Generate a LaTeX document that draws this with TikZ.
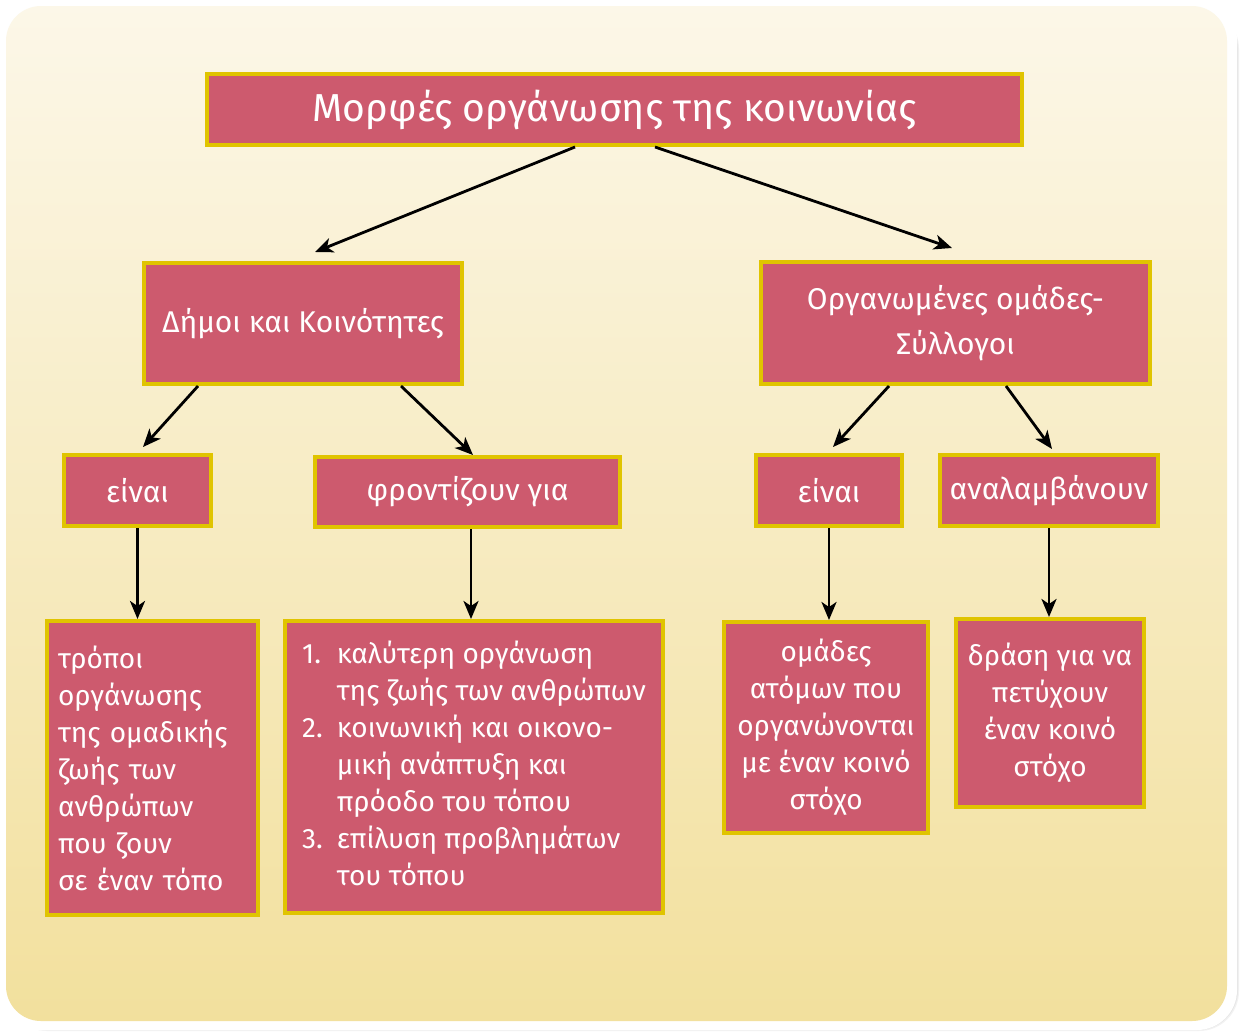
\documentclass[tikz,border=0pt]{standalone}
\usepackage{fontspec}
\setmainfont{Fira Sans}
\usetikzlibrary{arrows.meta,calc,positioning}

\definecolor{boxfill}{RGB}{205,90,110}
\definecolor{boxline}{RGB}{224,196,0}
\definecolor{bgtop}{RGB}{252,247,232}
\definecolor{bgbot}{RGB}{242,224,157}

\tikzset{
  box/.style={draw=boxline, fill=boxfill, line width=2pt, text=white, inner sep=0pt,
    align=center, font=\fontsize{14}{18.5}\selectfont},
  headfont/.style={font=\fontsize{15}{22.5}\selectfont},
  arr/.style={-{Stealth[length=9pt,width=7.5pt,inset=2.5pt]}, line width=1.4pt, black},
}

\begin{document}
\begin{tikzpicture}[x=0.5pt,y=0.5pt,yscale=-1,xscale=1]
\useasboundingbox (0,0) rectangle (1241,1034);

%Shape: frame with shadow
\foreach \s in {1,...,5}
  \fill[black, opacity=0.05, rounded corners=20pt] (2+\s,4+\s) rectangle (1234+\s,1026+\s);
\fill[white, rounded corners=20pt] (0,0) rectangle (1237,1030);
\shade[top color=bgtop, bottom color=bgbot, rounded corners=17.5pt] (6,6) rectangle (1227,1021);

% Text Node
\node[box, minimum width=407.5pt, minimum height=35.5pt, font=\fontsize{19.5}{24}\selectfont] (morfes) at (614.5,109.5) {Μορφές οργάνωσης της κοινωνίας};
% Text Node
\node[box, headfont, minimum width=159pt, minimum height=60.5pt] (dimoi) at (303,323.5) {Δήμοι και Κοινότητες};
% Text Node
\node[box, headfont, minimum width=194.5pt, minimum height=61pt] (syllogoi) at (955.5,323) {Οργανωμένες ομάδες-\\Σύλλογοι};
% Text Node
\node[box, headfont, minimum width=73.5pt, minimum height=35.5pt] (einaiA) at (137.5,490.5) {είναι};
% Text Node
\node[box, headfont, minimum width=152.5pt, minimum height=35pt] (frontizoun) at (467.5,492) {φροντίζουν για};
% Text Node
\node[box, headfont, minimum width=73pt, minimum height=35.5pt] (einaiB) at (829,490.5) {είναι};
% Text Node
\node[box, headfont, minimum width=109pt, minimum height=35.5pt] (analamv) at (1049,490.5) {αναλαμβάνουν};
% Text Node
\node[box, minimum width=105.5pt, minimum height=147pt, text width=94.5pt, align=left] (tropoi) at (152.5,768)
  {τρόποι\\οργάνωσης\\της ομαδικής\\ζωής των\\ανθρώπων\\που ζουν\\σε έναν τόπο};
% Text Node
\node[box, minimum width=189pt, minimum height=146pt] (stoxoi) at (474,767)
  {\begin{tabular}{@{}l@{\hspace{7pt}}l@{}}
   1. & καλύτερη οργάνωση\\
      & της ζωής των ανθρώπων\\
   2. & κοινωνική και οικονο-\\
      & μική ανάπτυξη και\\
      & πρόοδο του τόπου\\
   3. & επίλυση προβλημάτων\\
      & του τόπου
   \end{tabular}};
% Text Node
\node[box, minimum width=102pt, minimum height=105.5pt] (omades) at (826,727.5)
  {ομάδες\\ατόμων που\\οργανώνονται\\με έναν κοινό\\στόχο};
% Text Node
\node[box, minimum width=94pt, minimum height=94pt] (drasi) at (1050,713)
  {δράση για να\\πετύχουν\\έναν κοινό\\στόχο};

%Straight Lines
\draw[arr] ($(morfes.south)+(-39.5,0)$) -- ($(dimoi.north)+(12,-9)$);
\draw[arr] ($(morfes.south)+(40.5,0)$) -- ($(syllogoi.north)+(-3.5,-12)$);
\draw[arr] ($(dimoi.south)+(-105,0)$) -- ($(einaiA.north)+(5.5,-6)$);
\draw[arr] ($(dimoi.south)+(98,0)$) -- ($(frontizoun.north)+(5.5,0)$);
\draw[arr] ($(syllogoi.south)+(-66.5,0)$) -- ($(einaiB.north)+(4,-6)$);
\draw[arr] ($(syllogoi.south)+(50.5,0)$) -- ($(analamv.north)+(3,-4)$);
\draw[arr] (einaiA.south) -- (einaiA.south |- tropoi.north);
\draw[arr] ($(frontizoun.south)+(3.5,0)$) -- ($(frontizoun.south |- stoxoi.north)+(3.5,0)$);
\draw[arr] (einaiB.south) -- (einaiB.south |- omades.north);
\draw[arr] (analamv.south) -- (analamv.south |- drasi.north);

\end{tikzpicture}
\end{document}
